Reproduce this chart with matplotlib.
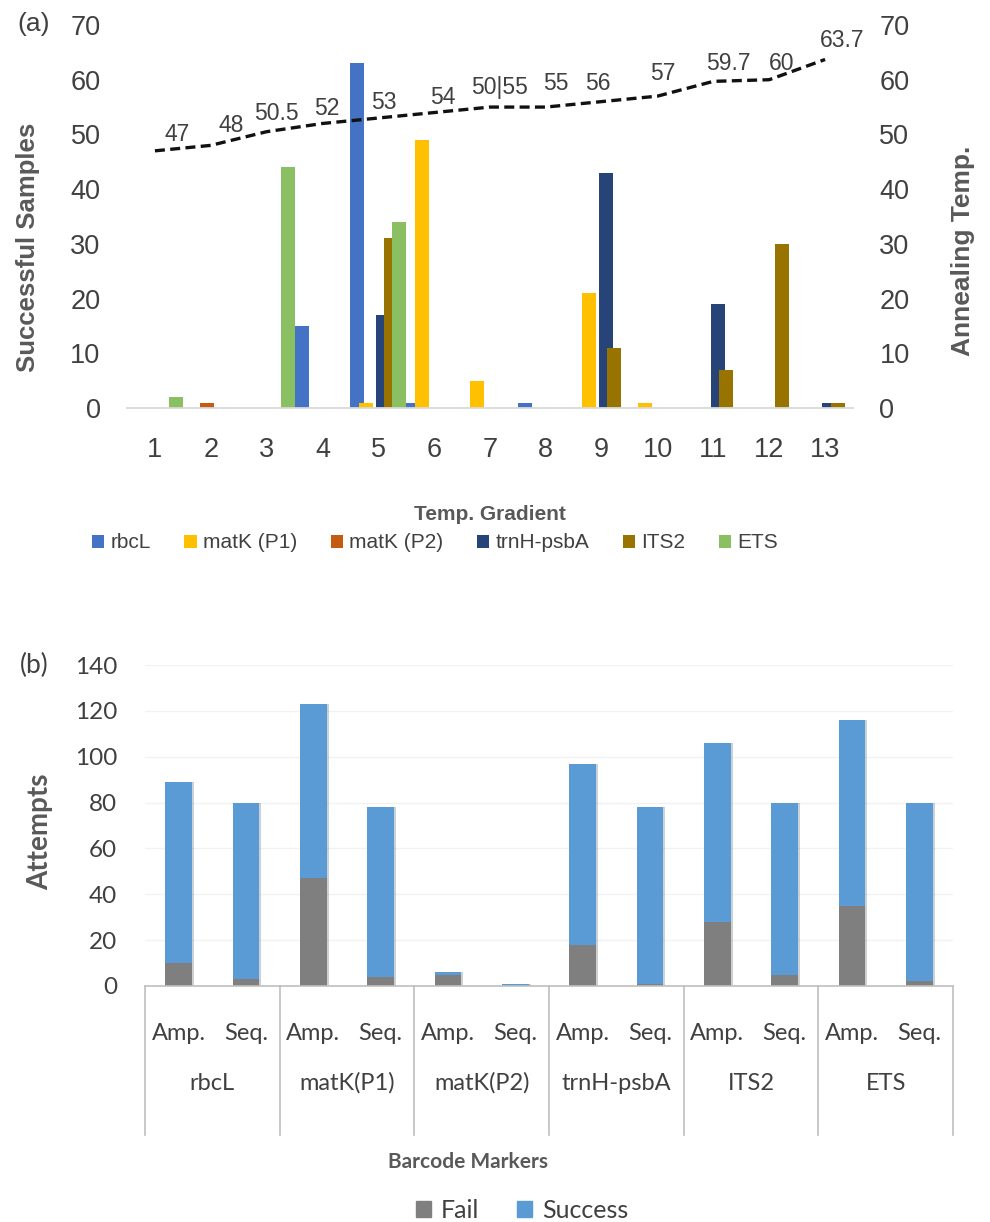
import numpy as np
import matplotlib.pyplot as plt
import matplotlib.patheffects as pe
from matplotlib.patches import Patch

# ---------------- datos (a) ----------------
gradientes = np.arange(1, 14)
series_a = ["rbcL", "matK (P1)", "matK (P2)", "trnH-psbA", "ITS2", "ETS"]
rbcl = [0, 0, 0, 15, 63, 1, 0, 1, 0, 0, 0, 0, 0]
matk_p1 = [0, 0, 0, 0, 1, 49, 5, 0, 21, 1, 0, 0, 0]
matk_p2 = [0, 1, 0, 0, 0, 0, 0, 0, 0, 0, 0, 0, 0]
trnh = [0, 0, 0, 0, 17, 0, 0, 0, 43, 0, 19, 0, 1]
its2 = [0, 0, 0, 0, 31, 0, 0, 0, 11, 0, 7, 30, 1]
ets = [2, 0, 44, 0, 34, 0, 0, 0, 0, 0, 0, 0, 0]
temp_anillado = [47, 48, 50.5, 52, 53, 54, 55, 55, 56, 57, 59.7, 60, 63.7]
etiquetas_temp = ["47", "48", "50.5", "52", "53", "54", "50|55", "55", "56",
                  "57", "59.7", "60", "63.7"]

# ---------------- datos (b) ----------------
marcadores = ["rbcL", "matK(P1)", "matK(P2)", "trnH-psbA", "ITS2", "ETS"]
pasos = ["Amp.", "Seq."]
fallos = [10, 3, 47, 4, 5, 0, 18, 1, 28, 5, 35, 2]
exitos = [79, 77, 76, 74, 1, 1, 79, 77, 78, 75, 81, 78]

colores_a = ["#4472C4", "#FFC000", "#C55A11", "#264478", "#997300", "#8ABF62"]
gris_txt = "#404040"
gris_lbl = "#595959"

W, H = 990, 1222
fig = plt.figure(figsize=(W / 100, H / 100), dpi=100)


def caja(x0, y0, x1, y1):
    # pixeles -> fraccion de figura
    return [x0 / W, 1 - y1 / H, (x1 - x0) / W, (y1 - y0) / H]


# ================= (a) =================
fuente_a = "Liberation Sans"
ax = fig.add_axes(caja(127, 25, 853, 408))
ax2 = ax.twinx()

desplaz = (np.arange(6) - 2.5) * 0.15
for i, vals in enumerate([rbcl, matk_p1, matk_p2, trnh, its2, ets]):
    ax.bar(gradientes + desplaz[i], vals, width=0.25, color=colores_a[i],
           label=series_a[i], zorder=2)

ax2.plot(gradientes, temp_anillado, color="#111111", ls=(0, (3, 1.6)), lw=2.4,
         zorder=3)
offs = [(16, 12), (15, 14), (7, 13), (3, 11), (4, 11), (6, 11), (7, 14),
        (7, 17), (-3, 13), (4, 16), (11, 13), (9, 12), (12, 14)]
for x, y, t, o in zip(gradientes, temp_anillado, etiquetas_temp, offs):
    ax2.annotate(t, (x, y), xytext=o, textcoords="offset points",
                 ha="center", va="center", fontsize=16.5, color=gris_txt,
                 family=fuente_a)

for a in (ax, ax2):
    a.set_xlim(0.5, 13.5)
    a.set_ylim(0, 70)
    a.set_yticks(range(0, 71, 10))
    for s in a.spines.values():
        s.set_visible(False)
    a.tick_params(length=0, labelsize=19.5, labelcolor=gris_txt)
ax.spines["bottom"].set_visible(True)
ax.spines["bottom"].set_color("#D9D9D9")
ax.spines["bottom"].set_linewidth(1.3)
ax.set_xticks(gradientes)
ax.tick_params(axis="y", pad=19)
ax.tick_params(axis="x", pad=21)
ax2.tick_params(axis="y", pad=19)
for lab in ax.get_xticklabels() + ax.get_yticklabels() + ax2.get_yticklabels():
    lab.set_family(fuente_a)

fig.text(28 / W, 1 - 247 / H, "Successful Samples", rotation=90, ha="center",
         va="center", fontsize=18.5, fontweight="bold", color=gris_lbl,
         family=fuente_a)
fig.text(963 / W, 1 - 251 / H, "Annealing Temp.", rotation=90, ha="center",
         va="center", fontsize=19, fontweight="bold", color=gris_lbl,
         family=fuente_a)
fig.text(490 / W, 1 - 515 / H, "Temp. Gradient", ha="center", va="center",
         fontsize=15, fontweight="bold", color=gris_lbl, family=fuente_a)
fig.text(34 / W, 1 - 24 / H, "(a)", ha="center", va="center", fontsize=19,
         color=gris_txt, family=fuente_a)

leg = fig.legend(*ax.get_legend_handles_labels(), loc="center",
                 bbox_to_anchor=(435 / W, 1 - 543 / H), ncol=6, frameon=False,
                 prop={"family": fuente_a, "size": 15}, handlelength=0.6,
                 handleheight=0.6, handletextpad=0.3, columnspacing=1.6)
for t in leg.get_texts():
    t.set_color(gris_txt)

# ================= (b) =================
fuente_b = "Lato"
bx = fig.add_axes(caja(145, 665, 953, 986))
pos = np.arange(len(fallos))
sombra = [pe.SimplePatchShadow(offset=(1.3, 0), alpha=0.22), pe.Normal()]
b1 = bx.bar(pos, fallos, width=0.4, color="#7F7F7F", label="Fail", zorder=2)
b2 = bx.bar(pos, exitos, bottom=fallos, width=0.4, color="#5B9BD5",
            label="Success", zorder=2)
for p in list(b1) + list(b2):
    p.set_path_effects(sombra)

bx.set_xlim(-0.5, len(fallos) - 0.5)
bx.set_ylim(0, 140)
bx.set_yticks(range(0, 141, 20))
bx.set_xticks([])
bx.grid(axis="y", color="#F2F2F2", lw=1, zorder=0)
for s in bx.spines.values():
    s.set_visible(False)
bx.tick_params(length=0, labelsize=17.5, labelcolor=gris_txt, pad=20)
for lab in bx.get_yticklabels():
    lab.set_family(fuente_b)

# eje de categorias en dos niveles
trans = bx.get_xaxis_transform()
alto = (1135 - 986) / (986 - 665)
bx.plot([-0.5, len(fallos) - 0.5], [0, 0], transform=trans, color="#BFBFBF",
        lw=1.2, clip_on=False)
for k in range(len(marcadores) + 1):
    bx.plot([2 * k - 0.5] * 2, [0, -alto], transform=trans, color="#BFBFBF",
            lw=1.2, clip_on=False)
for k, m in enumerate(marcadores):
    for j, pname in enumerate(pasos):
        bx.text(2 * k + j, -(1033 - 986) / 321, pname, transform=trans,
                ha="center", va="center", fontsize=17, color=gris_txt,
                family=fuente_b)
    bx.text(2 * k + 0.5, -(1083 - 986) / 321, m, transform=trans,
            ha="center", va="center", fontsize=17, color=gris_txt,
            family=fuente_b)

fig.text(468 / W, 1 - 1162 / H, "Barcode Markers", ha="center", va="center",
         fontsize=15, fontweight="bold", color=gris_lbl, family=fuente_b)
fig.text(40 / W, 1 - 832 / H, "Attempts", rotation=90, ha="center",
         va="center", fontsize=20, fontweight="bold", color=gris_lbl,
         family=fuente_b)
fig.text(34 / W, 1 - 665 / H, "(b)", ha="center", va="center", fontsize=19,
         color=gris_txt, family=fuente_b)

leg2 = fig.legend(handles=[Patch(color="#7F7F7F", label="Fail"),
                           Patch(color="#5B9BD5", label="Success")],
                  loc="center", bbox_to_anchor=(522 / W, 1 - 1210 / H),
                  ncol=2, frameon=False, prop={"family": fuente_b, "size": 18},
                  handlelength=0.6, handleheight=0.6, handletextpad=0.4,
                  columnspacing=1.5)
for t in leg2.get_texts():
    t.set_color(gris_txt)

fig.savefig("out.png", dpi=100)
